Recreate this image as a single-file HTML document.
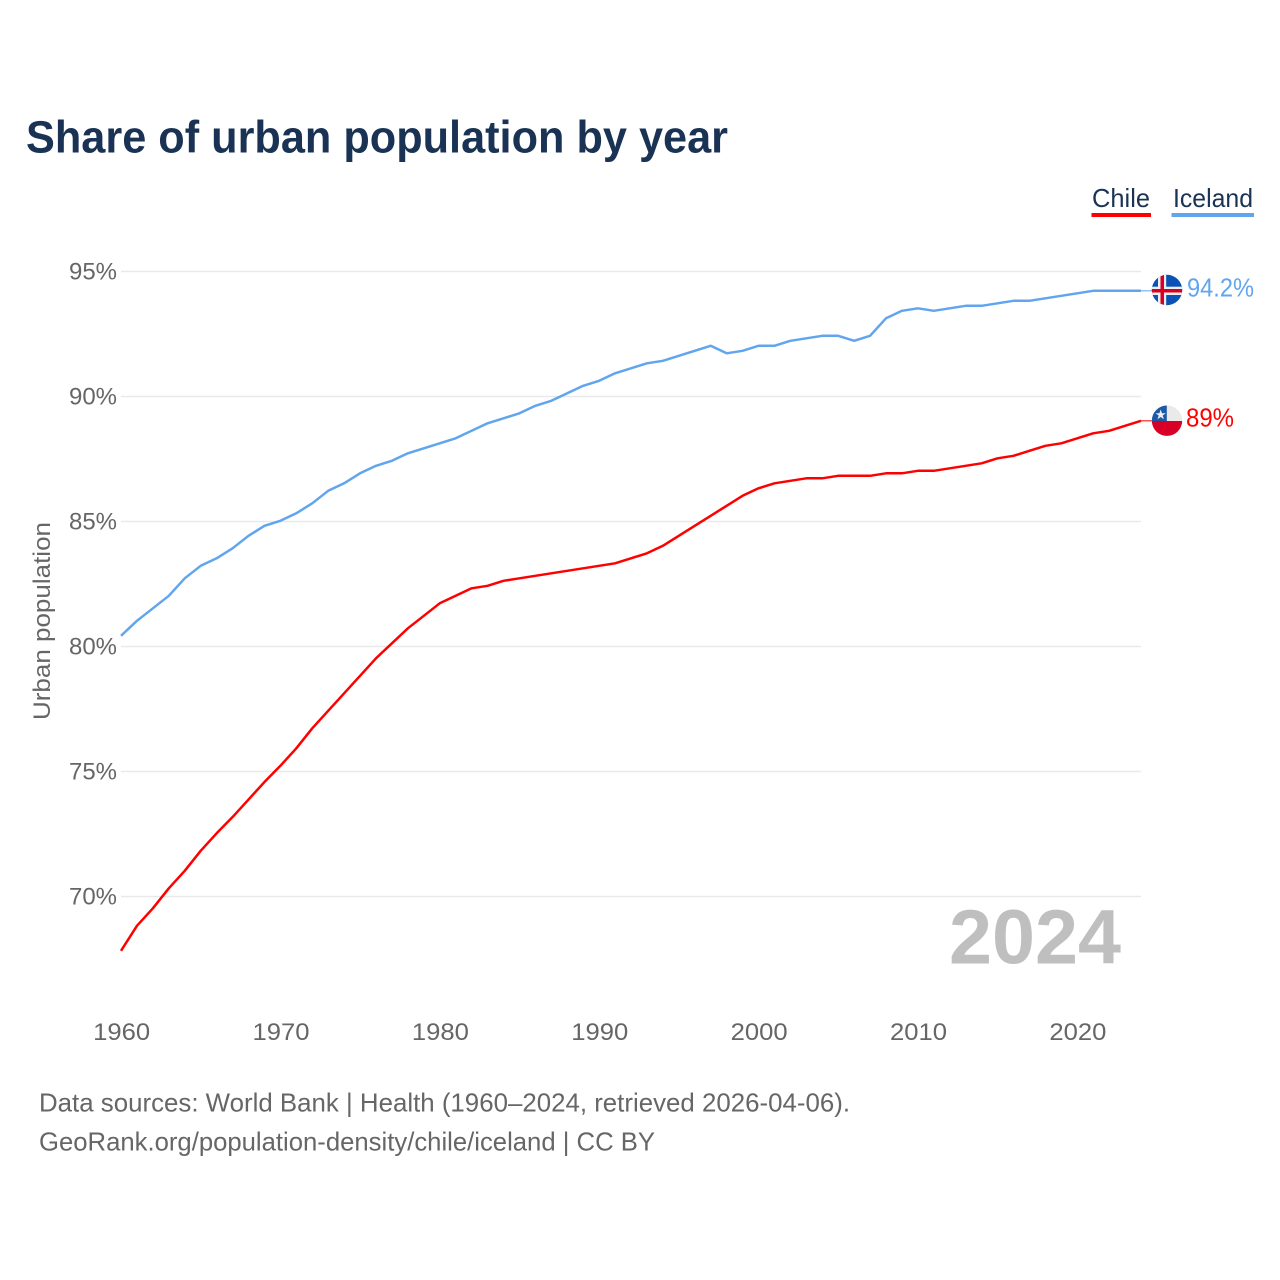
<!DOCTYPE html>
<html>
<head>
<meta charset="utf-8">
<style>
html,body{margin:0;padding:0;background:#fff;}
svg{display:block;font-family:"Liberation Sans",sans-serif;}
</style>
</head>
<body>
<svg id="chart" width="1280" height="1280" viewBox="0 0 1280 1280" xmlns="http://www.w3.org/2000/svg">
<rect width="1280" height="1280" fill="#fff"/>
<text x="26" y="152.500" font-size="45" font-weight="700" fill="#1a3354" textLength="702" lengthAdjust="spacingAndGlyphs">Share of urban population by year</text>

<g id="grid"></g>
<g id="yticks"></g>
<g id="xticks"></g>
<text transform="translate(50,621) rotate(-90)" text-anchor="middle" font-size="24" fill="#666" textLength="198" lengthAdjust="spacingAndGlyphs">Urban population</text>

<text x="949" y="963.500" font-size="77" font-weight="700" fill="#bfbfbf" textLength="172" lengthAdjust="spacingAndGlyphs">2024</text>

<g id="series" transform="translate(0,-0.7)"></g>

<g>
  <g>
    <text x="1092" y="207" font-size="26" fill="#1a3354" textLength="58" lengthAdjust="spacingAndGlyphs">Chile</text>
    <rect x="1091.500" y="213" width="59.500" height="4" fill="#ff0000"/>
  </g>
  <g>
    <text x="1173" y="207" font-size="26" fill="#1a3354" textLength="80" lengthAdjust="spacingAndGlyphs">Iceland</text>
    <rect x="1171.500" y="213" width="82.500" height="4" fill="#60a5ee"/>
  </g>
</g>

<defs>
  <clipPath id="clip-is"><circle cx="1167" cy="290" r="15.200"/></clipPath>
  <clipPath id="clip-cl"><circle cx="1167" cy="420.700" r="15.200"/></clipPath>
</defs>
<g clip-path="url(#clip-is)">
  <rect x="1151" y="274" width="32" height="33" fill="#0a52b5"/>
  <rect x="1151" y="286.700" width="32" height="8.300" fill="#eee"/>
  <rect x="1158" y="274" width="8.200" height="33" fill="#eee"/>
  <rect x="1151" y="289" width="32" height="3.500" fill="#d80027"/>
  <rect x="1160.500" y="274" width="3.500" height="33" fill="#d80027"/>
</g>
<g clip-path="url(#clip-cl)">
  <rect x="1151" y="405" width="32" height="16" fill="#eaeaea"/>
  <rect x="1151" y="405" width="15.800" height="16" fill="#1c5aa8"/>
  <rect x="1151" y="421" width="32" height="16" fill="#d80027"/>
  <polygon points="1160.700,409.500 1162,413.300 1165.800,413.300 1162.700,415.500 1163.900,419.200 1160.700,417 1157.500,419.200 1158.700,415.500 1155.600,413.300 1159.400,413.300" fill="#eee"/>
</g>
<text x="1187" y="296.500" font-size="26" fill="#60a5ee" textLength="67" lengthAdjust="spacingAndGlyphs">94.2%</text>
<text x="1186" y="426.500" font-size="26" fill="#ff0000" textLength="48" lengthAdjust="spacingAndGlyphs">89%</text>

<text x="39" y="1111.500" font-size="26" fill="#666" textLength="811" lengthAdjust="spacingAndGlyphs">Data sources: World Bank | Health (1960–2024, retrieved 2026-04-06).</text>
<text x="39" y="1150.500" font-size="26" fill="#666" textLength="616" lengthAdjust="spacingAndGlyphs">GeoRank.org/population-density/chile/iceland | CC BY</text>
</svg>

<script>
var startYear = 1960;
var iceland = [80.4,81.0,81.5,82.0,82.7,83.2,83.5,83.9,84.4,84.8,85.0,85.3,85.7,86.2,86.5,86.9,87.2,87.4,87.7,87.9,88.1,88.3,88.6,88.9,89.1,89.3,89.6,89.8,90.1,90.4,90.6,90.9,91.1,91.3,91.4,91.6,91.8,92.0,91.7,91.8,92.0,92.0,92.2,92.3,92.4,92.4,92.2,92.4,93.1,93.4,93.5,93.4,93.5,93.6,93.6,93.7,93.8,93.8,93.9,94.0,94.1,94.2,94.2,94.2,94.2];
var chile = [67.8,68.8,69.5,70.3,71.0,71.8,72.5,73.15,73.85,74.55,75.2,75.9,76.7,77.4,78.1,78.8,79.5,80.1,80.7,81.2,81.7,82.0,82.3,82.4,82.6,82.7,82.8,82.9,83.0,83.1,83.2,83.3,83.5,83.7,84.0,84.4,84.8,85.2,85.6,86.0,86.3,86.5,86.6,86.7,86.7,86.8,86.8,86.8,86.9,86.9,87.0,87.0,87.1,87.2,87.3,87.5,87.6,87.8,88.0,88.1,88.3,88.5,88.6,88.8,89.0];
var yTickValues = [70,75,80,85,90,95];
var xTickValues = [1960,1970,1980,1990,2000,2010,2020];

var NS = 'http://www.w3.org/2000/svg';
function xScale(year){ return 121 + (year - 1960) * (1020 / 64); }
function yScale(v){ return 271.5 + (95 - v) * 25; }
function make(tag, attrs, parent, text){
  var el = document.createElementNS(NS, tag);
  for (var k in attrs) el.setAttribute(k, attrs[k]);
  if (text !== undefined) el.textContent = text;
  parent.appendChild(el);
  return el;
}

var grid = document.getElementById('grid');
var yticks = document.getElementById('yticks');
yTickValues.forEach(function(v){
  var line = make('line', {x1:121, x2:1141, y1:yScale(v), y2:yScale(v), stroke:'#e9e9e9', 'stroke-width':1.5}, grid);
  
  
  var lab = make('text', {x:117, y:yScale(v)+8, 'text-anchor':'end', 'font-size':24, fill:'#666', textLength:48, lengthAdjust:'spacingAndGlyphs'}, yticks, v + '%');
  
  
});

var xticks = document.getElementById('xticks');
xTickValues.forEach(function(y){
  var lab = make('text', {x:xScale(y)+0.7, y:1040, 'text-anchor':'middle', 'font-size':24, fill:'#666', textLength:57, lengthAdjust:'spacingAndGlyphs'}, xticks, String(y));
  
  
});

function pathFor(values){
  return values.map(function(v, i){
    return (i ? 'L' : 'M') + xScale(startYear + i).toFixed(2) + ' ' + yScale(v).toFixed(2);
  }).join(' ');
}
var seriesGroup = document.getElementById('series');

var icelandLine = make('path', {d:pathFor(iceland), fill:'none', stroke:'#60a5ee', 'stroke-width':2.5, 'stroke-linejoin':'round'}, seriesGroup);



var chileLine = make('path', {d:pathFor(chile), fill:'none', stroke:'#ff0000', 'stroke-width':2.5, 'stroke-linejoin':'round'}, seriesGroup);



var lastX = xScale(startYear + iceland.length - 1);
var icelandLead = make('line', {x1:lastX, x2:lastX + 11, y1:yScale(iceland[iceland.length-1]), y2:yScale(iceland[iceland.length-1]), stroke:'#60a5ee', 'stroke-width':1.2, opacity:0.85}, seriesGroup);



var chileLead = make('line', {x1:lastX, x2:lastX + 11, y1:yScale(chile[chile.length-1]), y2:yScale(chile[chile.length-1]), stroke:'#ff0000', 'stroke-width':1.2, opacity:0.85}, seriesGroup);


</script>
</body>
</html>
